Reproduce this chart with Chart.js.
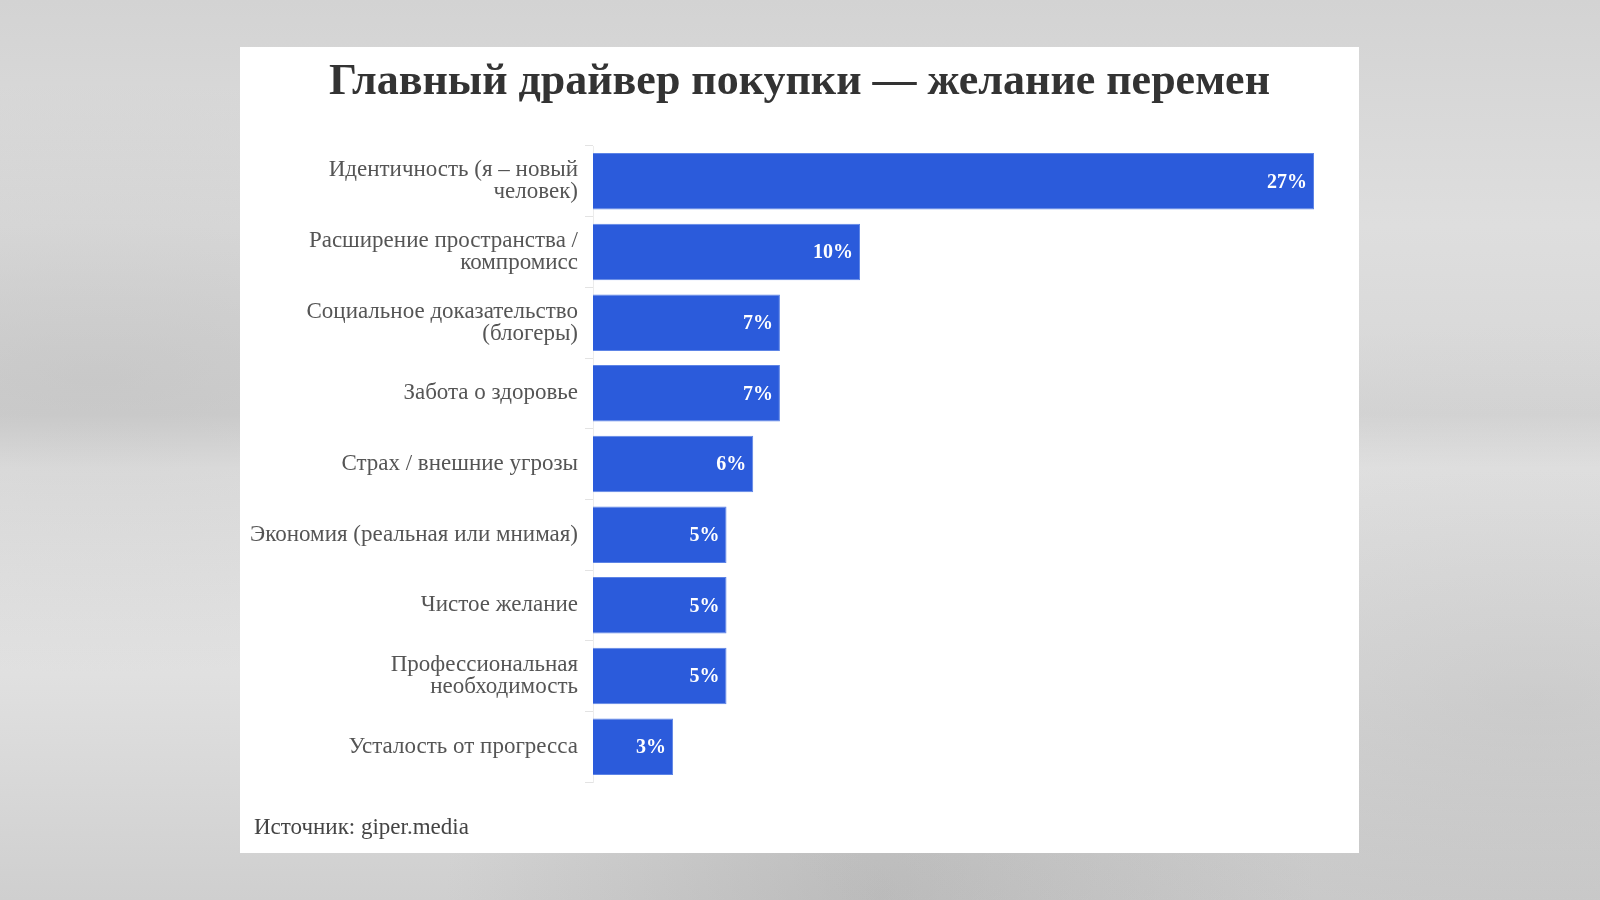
<!DOCTYPE html>
<html lang="ru">
<head>
<meta charset="utf-8">
<title>Главный драйвер покупки — желание перемен</title>
<script src="https://cdn.jsdelivr.net/npm/chart.js@4.4.1/dist/chart.umd.min.js"></script>
<style>
  html, body { margin: 0; padding: 0; }
  body {
    width: 1600px; height: 900px; overflow: hidden; position: relative;
    background:
      radial-gradient(ellipse at 6% 42%, rgba(165,165,165,.30), transparent 40%),
      radial-gradient(ellipse at 96% 78%, rgba(160,160,160,.30), transparent 38%),
      radial-gradient(ellipse at 55% 100%, rgba(150,150,150,.35), transparent 35%),
      linear-gradient(180deg, #d3d3d3 0%, #dedede 25%, #d6d6d6 46%, #e6e6e6 52%, #e0e0e0 75%, #cfcfcf 100%);
  }
  .card { position: absolute; left: 240px; top: 47px; width: 1119px; height: 806px; background: #fff; }
  .card canvas { position: absolute; left: 0; top: 0; }
  .title {
    position: absolute; left: 0; right: 0; top: 7px; margin: 0;
    text-align: center; line-height: 48px;
    font: bold 44px "Liberation Serif", serif; color: #333;
  }
  .source {
    position: absolute; left: 14px; top: 767px;
    font: 23px "Liberation Serif", serif; color: #444;
  }
</style>
</head>
<body>
<div class="card">
  <canvas id="driverChart" width="1119" height="806"></canvas>
  <h1 class="title">Главный драйвер покупки — желание перемен</h1>
  <div class="source">Источник: giper.media</div>
</div>
<script>
// data (share of respondents, %)
const CATEGORIES = [
  ['Идентичность (я – новый', 'человек)'],
  ['Расширение пространства /', 'компромисс'],
  ['Социальное доказательство', '(блогеры)'],
  'Забота о здоровье',
  'Страх / внешние угрозы',
  'Экономия (реальная или мнимая)',
  'Чистое желание',
  ['Профессиональная', 'необходимость'],
  'Усталость от прогресса',
];
const SHARES = [27, 10, 7, 7, 6, 5, 5, 5, 3];
const VALUE_LABELS = SHARES.map(v => `${v}%`);

const SERIF = '"Liberation Serif", "DejaVu Serif", serif';
const BAR_BLUE = '#2b5bdb';

// white % labels at the end of each bar
const valueLabels = {
  id: 'valueLabels',
  afterDatasetsDraw(chart) {
    const { ctx } = chart;
    ctx.save();
    ctx.font = `bold 20px ${SERIF}`;
    ctx.fillStyle = '#fff';
    ctx.textAlign = 'right';
    ctx.textBaseline = 'middle';
    chart.getDatasetMeta(0).data.forEach((bar, i) => {
      ctx.fillText(VALUE_LABELS[i], bar.x - 7, bar.y + 1);
    });
    ctx.restore();
  }
};

new Chart(document.getElementById('driverChart'), {
  type: 'bar',
  data: {
    labels: CATEGORIES,
    datasets: [{
      data: SHARES,
      backgroundColor: BAR_BLUE,
      borderColor: '#5d84e6',
      borderWidth: 1,
      barPercentage: 0.8,
      categoryPercentage: 1,
    }],
  },
  options: {
    indexAxis: 'y',
    responsive: false,
    animation: false,
    layout: { padding: { left: 0, right: 45, top: 99, bottom: 71 } },
    plugins: {
      legend: { display: false },
      tooltip: { enabled: false },
    },
    scales: {
      x: { display: false, min: 0, max: 27 },
      y: {
        afterFit: (scale) => { scale.width = 353; },
        grid: { drawOnChartArea: false, tickLength: 8, color: '#e3e3e3' },
        border: { color: '#ececec' },
        ticks: {
          color: '#555',
          padding: 7,
          font: { family: SERIF, size: 23, lineHeight: 0.95 },
        },
      },
    },
  },
  plugins: [valueLabels],
});
</script>
</body>
</html>
